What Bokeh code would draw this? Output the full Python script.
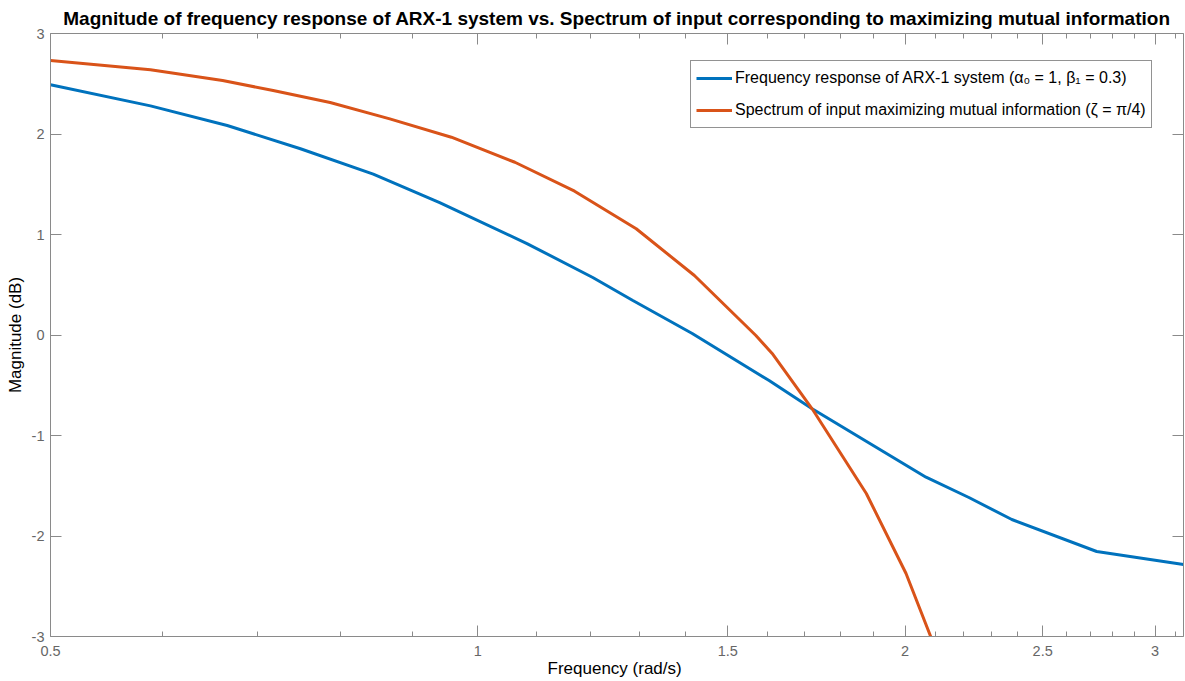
import math
from bokeh.plotting import figure
from bokeh.models import (LogAxis, LinearAxis, FixedTicker, Range1d, Legend,
                          LegendItem, CustomJSTickFormatter)
from bokeh.embed import file_html
from bokeh.resources import INLINE

# ---- data ----
blue_freq = [0.500, 0.588, 0.666, 0.750, 0.844, 0.940, 1.083, 1.205, 1.286,
             1.416, 1.604, 1.720, 2.069, 2.218, 2.378, 2.729, 3.1416]
blue_mag = [2.49, 2.28, 2.085, 1.853, 1.600, 1.318, 0.910, 0.572, 0.343,
            0.015, -0.453, -0.734, -1.415, -1.617, -1.836, -2.154, -2.284]

orange_freq = [0.500, 0.588, 0.661, 0.7175, 0.787, 0.867, 0.958, 1.062, 1.170,
               1.293, 1.421, 1.570, 1.612, 1.720, 1.878, 2.003, 2.086]
orange_mag = [2.731, 2.640, 2.532, 2.433, 2.313, 2.151, 1.968, 1.719, 1.431,
              1.057, 0.592, -0.005, -0.184, -0.734, -1.577, -2.373, -3.01]

x_major_ticks = [0.5, 1, 1.5, 2, 2.5, 3]
x_minor_ticks = [0.6, 0.7, 0.8, 0.9, 1.1, 1.2, 1.3, 1.4, 1.6, 1.7, 1.8, 1.9,
                 2.1, 2.2, 2.3, 2.4, 2.6, 2.7, 2.8, 2.9, 3.1]
y_ticks = [-3, -2, -1, 0, 1, 2, 3]

title_text = ("Magnitude of frequency response of ARX-1 system vs. Spectrum of "
              "input corresponding to maximizing mutual information")
label_blue = "Frequency response of ARX-1 system (\u03b1\u2080 = 1, \u03b2\u2081 = 0.3)"
label_orange = "Spectrum of input maximizing mutual information (\u03b6 = \u03c0/4)"

FONT = "Liberation Sans"
AX_COLOR = "#8a8a8a"
TICK_LABEL_COLOR = "#666666"

p = figure(width=1185, height=681, x_axis_type="log",
           x_range=Range1d(0.5, math.pi), y_range=Range1d(-3, 3),
           output_backend="svg", toolbar_location=None,
           min_border_left=50, min_border_right=2, min_border_top=33,
           min_border_bottom=45)

p.xgrid.visible = False
p.ygrid.visible = False
p.outline_line_color = None
p.background_fill_color = "white"
p.border_fill_color = "white"

r1 = p.line(blue_freq, blue_mag, line_color="#0072BD", line_width=3)
r2 = p.line(orange_freq, orange_mag, line_color="#D95319", line_width=3)

fmt = CustomJSTickFormatter(code="return String(tick);")
empty_fmt = CustomJSTickFormatter(code="return '';")

def style_axis(ax, ticker, labels=True):
    ax.ticker = ticker
    ax.axis_line_color = AX_COLOR
    ax.major_tick_line_color = AX_COLOR
    ax.minor_tick_line_color = AX_COLOR
    ax.major_tick_in = 11
    ax.major_tick_out = 0
    ax.minor_tick_in = 5
    ax.minor_tick_out = 0
    if labels:
        ax.major_label_text_font = FONT
        ax.major_label_text_font_size = "14.5px"
        ax.major_label_text_color = TICK_LABEL_COLOR
        ax.axis_label_text_font = FONT
        ax.axis_label_text_font_size = "17px"
        ax.axis_label_text_font_style = "normal"
        ax.axis_label_text_color = "black"
    else:
        ax.formatter = empty_fmt
        ax.major_label_standoff = 0

xt = FixedTicker(ticks=x_major_ticks, minor_ticks=x_minor_ticks)
yt = FixedTicker(ticks=y_ticks, minor_ticks=[])

xa = p.xaxis[0]
style_axis(xa, xt)
xa.formatter = fmt
xa.axis_label = "Frequency  (rad/s)"
xa.major_label_standoff = 9
xa.axis_label_standoff = 0

ya = p.yaxis[0]
style_axis(ya, yt)
ya.formatter = fmt
ya.axis_label = "Magnitude (dB)"
ya.major_label_standoff = 6
ya.axis_label_standoff = 4

top_ax = LogAxis()
style_axis(top_ax, FixedTicker(ticks=x_major_ticks, minor_ticks=x_minor_ticks), labels=False)
p.add_layout(top_ax, "above")

right_ax = LinearAxis()
style_axis(right_ax, FixedTicker(ticks=y_ticks, minor_ticks=[]), labels=False)
p.add_layout(right_ax, "right")

p.title.text = title_text
p.title.text_font = FONT
p.title.text_font_size = "19px"
p.title.text_font_style = "bold"
p.title.text_color = "black"
p.title.align = "center"

legend = Legend(items=[LegendItem(label=label_blue, renderers=[r1]),
                       LegendItem(label=label_orange, renderers=[r2])],
                location=(640, 508))
legend.border_line_color = "#262626"
legend.border_line_width = 1.5
legend.background_fill_color = "white"
legend.background_fill_alpha = 1.0
legend.label_text_font = FONT
legend.label_text_font_size = "16px"
legend.label_text_color = "black"
legend.glyph_width = 36
legend.glyph_height = 24
legend.label_height = 24
legend.spacing = 8
legend.padding = 5
legend.margin = 0
legend.label_standoff = 3
p.add_layout(legend)

open("out.html", "w").write(file_html(p, INLINE))
